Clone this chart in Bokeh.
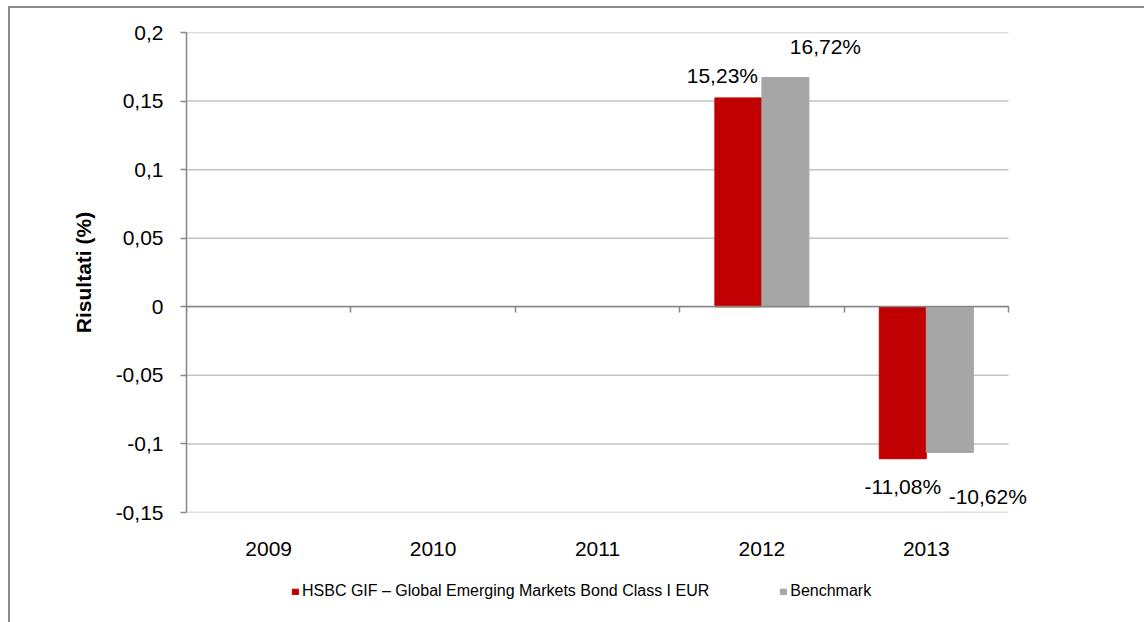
from bokeh.plotting import figure
from bokeh.layouts import column
from bokeh.models import (ColumnDataSource, FixedTicker, LinearAxis, Legend, LegendItem, Range1d, LabelSet)
from bokeh.core.properties import value
from bokeh.embed import file_html
from bokeh.resources import INLINE

# ---- data ----
years = ["2009", "2010", "2011", "2012", "2013"]
fund = [None, None, None, 0.1523, -0.1108]
benchmark = [None, None, None, 0.1672, -0.1062]
y_ticks = [-0.15, -0.1, -0.05, 0.0, 0.05, 0.1, 0.15, 0.2]
y_tick_labels = ["-0,15", "-0,1", "-0,05", "0", "0,05", "0,1", "0,15", "0,2"]
fund_name = "HSBC GIF \u2013 Global Emerging Markets Bond Class I EUR"
bench_name = "Benchmark"

# ---- style ----
RED = "#C00000"
GREY = "#A6A6A6"
AXIS = "#868686"
GRID = "#C2C2C2"
FONT = "Liberation Sans"
BAR_W = 0.286
PLOT_PX = 822      # width of the category area in px
PAD_PX = 32        # extra room right of the plot for the data labels

def pct(v):
    return ("%.2f%%" % (v * 100)).replace(".", ",")

n = len(years)
centers = [i + 0.5 for i in range(n)]
fx, ft, bx, bt = [], [], [], []
for c, f, b in zip(centers, fund, benchmark):
    if f is not None:
        fx.append(c - BAR_W / 2); ft.append(f)
    if b is not None:
        bx.append(c + BAR_W / 2); bt.append(b)
src_f = ColumnDataSource(dict(x=fx, top=ft))
src_b = ColumnDataSource(dict(x=bx, top=bt))
src_g = ColumnDataSource(dict(x0=[0] * len(y_ticks), x1=[n] * len(y_ticks), y=y_ticks))

# label offsets (style, px) in order: fund labels then benchmark labels
lab_x = fx + bx
lab_y = ft + bt
lab_t = [pct(v) for v in lab_y]
x_off = [-16, 0, 40, 38]
y_off = [22, -28, 31, -44]
src_l = ColumnDataSource(dict(x=lab_x, y=lab_y, t=lab_t, xo=x_off, yo=y_off))

W, H, LH = 1134, 564, 50
x_end = n * (PLOT_PX + PAD_PX) / PLOT_PX
p = figure(width=W, height=H, output_backend="svg", toolbar_location=None,
           x_range=Range1d(0, x_end), y_range=Range1d(y_ticks[0], y_ticks[-1]),
           min_border_left=176, min_border_top=24, min_border_right=104, min_border_bottom=60,
           x_axis_location=None, y_axis_location=None)
p.outline_line_color = None
p.background_fill_color = "white"
p.xgrid.visible = False
p.ygrid.visible = False

# horizontal gridlines limited to the category area
p.segment(x0="x0", x1="x1", y0="y", y1="y", source=src_g, line_color=GRID, line_width=1.5)

# y axis
yax = LinearAxis(ticker=FixedTicker(ticks=y_ticks),
                 major_label_overrides={t: l for t, l in zip(y_ticks, y_tick_labels)},
                 axis_label="Risultati (%)")
yax.axis_line_color = AXIS
yax.axis_line_width = 1.5
yax.major_tick_line_color = AXIS
yax.major_tick_line_width = 1.5
yax.major_tick_out = 6
yax.major_tick_in = 0
yax.minor_tick_line_color = None
yax.major_label_text_font = FONT
yax.major_label_text_font_size = "21px"
yax.major_label_text_color = "#000000"
yax.major_label_standoff = 17
yax.axis_label_text_font = FONT
yax.axis_label_text_font_size = "21px"
yax.axis_label_text_font_style = "bold"
yax.axis_label_text_color = "#000000"
yax.axis_label_standoff = 18
p.add_layout(yax, "left")

# x axis line at zero with boundary ticks
zax = LinearAxis(ticker=FixedTicker(ticks=list(range(n + 1))), fixed_location=0, bounds=(0, n))
zax.axis_line_color = AXIS
zax.axis_line_width = 1.5
zax.major_tick_line_color = AXIS
zax.major_tick_line_width = 1.5
zax.major_tick_out = 6
zax.major_tick_in = 0
zax.minor_tick_line_color = None
zax.major_label_text_font_size = "0px"
zax.major_label_text_alpha = 0
p.add_layout(zax, "below")

# category labels
xax = LinearAxis(ticker=FixedTicker(ticks=centers),
                 major_label_overrides={c: y for c, y in zip(centers, years)})
xax.axis_line_color = None
xax.major_tick_line_color = None
xax.minor_tick_line_color = None
xax.major_label_text_font = FONT
xax.major_label_text_font_size = "21px"
xax.major_label_text_color = "#000000"
xax.major_label_standoff = 23
p.add_layout(xax, "below")

# bars
rf = p.vbar(x="x", top="top", bottom=0, width=BAR_W, source=src_f, fill_color=RED, line_color=RED)
rb = p.vbar(x="x", top="top", bottom=0, width=BAR_W, source=src_b, fill_color=GREY, line_color=GREY)

# data labels
labels = LabelSet(x="x", y="y", text="t", x_offset="xo", y_offset="yo", source=src_l,
                  text_font=value(FONT), text_font_size="21px", text_color="#000000",
                  text_align="center", text_baseline="middle")
p.add_layout(labels)

# legend strip (frame aligned with the chart's frame by the column layout)
q = figure(width=W, height=LH, output_backend="svg", toolbar_location=None,
           x_range=Range1d(0, 1), y_range=Range1d(0, 1),
           min_border=0, x_axis_location=None, y_axis_location=None)
q.outline_line_color = None
q.xgrid.visible = False
q.ygrid.visible = False
# proxies outside the visible range, used only for the legend swatches
lf = q.vbar(x=[-10], top=[-10], bottom=[-11], width=1, fill_color=RED, line_color=RED)
lb = q.vbar(x=[-10], top=[-10], bottom=[-11], width=1, fill_color=GREY, line_color=GREY)
legend = Legend(items=[LegendItem(label=fund_name, renderers=[lf]),
                       LegendItem(label=bench_name, renderers=[lb])],
                location=(105, 22), orientation="horizontal")
legend.glyph_width = 8
legend.glyph_height = 7
legend.label_standoff = 3
legend.spacing = 70
legend.padding = 0
legend.margin = 0
legend.border_line_color = None
legend.background_fill_alpha = 0
legend.label_text_font = FONT
legend.label_text_font_size = "16px"
legend.label_text_color = "#000000"
legend.label_height = 16
q.add_layout(legend, "center")

layout = column(p, q, spacing=0,
                styles={"margin-left": "8px", "margin-top": "6px",
                        "border-left": "2px solid #8c8c8c", "border-top": "2px solid #8c8c8c"})

open("out.html", "w").write(file_html(layout, INLINE))
